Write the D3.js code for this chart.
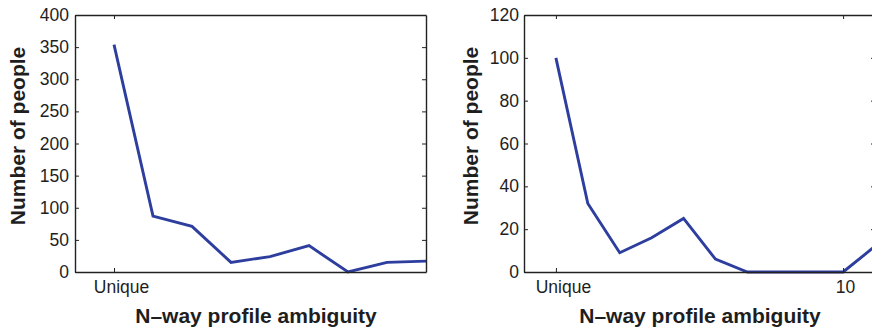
<!DOCTYPE html>
<html>
<head>
<meta charset="utf-8">
<script src="https://cdn.jsdelivr.net/npm/d3@7"></script>
<style>
  body { margin: 0; background: #fff; }
  svg { display: block; }
  .tick text { font-family: "Liberation Sans", Arial, Helvetica, sans-serif; font-size: 17.5px; fill: #1e1e1e; }
  .title { font-family: "Liberation Sans", Arial, Helvetica, sans-serif; font-size: 21px; font-weight: bold; fill: #1e1e1e; }
</style>
</head>
<body>
<div id="chart"></div>
<script>
// data (x = ambiguity level, 1 = unique)
var leftX = [1, 2, 3, 4, 5, 6, 7, 8, 9];
var leftCounts = [354, 87, 71, 15, 24, 41, 0, 15, 17];
var leftYTicks = [0, 50, 100, 150, 200, 250, 300, 350, 400];
var leftXTicks = [1];

var rightX = [1, 2, 3, 4, 5, 6, 7, 8, 9, 10, 11];
var rightCounts = [100, 32, 9, 16, 25, 6, 0, 0, 0, 0, 12];
var rightYTicks = [0, 20, 40, 60, 80, 100, 120];
var rightXTicks = [1, 10];

var xLabel = "N\u2013way profile ambiguity";
var yLabel = "Number of people";

var svg = d3.select("#chart").append("svg")
    .attr("width", 872)
    .attr("height", 331);

var panel = function(opts) {
    var x = d3.scaleLinear().domain(opts.xDomain).range([opts.left, opts.right]);
    var y = d3.scaleLinear().domain(opts.yDomain).range([272, 15]);
    var fmt = function(d) { return d == 1 ? "Unique" : d; };

    var g = svg.append("g");

    // line first so the box sits on top
    var line = d3.line()
        .x(function(d, i) { return x(opts.xs[i]); })
        .y(function(d) { return y(d); });
    g.append("path")
        .datum(opts.values)
        .attr("d", line)
        .attr("fill", "none")
        .attr("stroke", "#2d3e9e")
        .attr("stroke-width", 2.9)
        .attr("stroke-linejoin", "miter");

    // bottom axis (ticks point inward)
    var bx = g.append("g")
        .attr("transform", "translate(0,272)")
        .call(d3.axisBottom(x).tickValues(opts.xTicks).tickFormat(fmt).tickSizeInner(-4).tickSizeOuter(0).tickPadding(9));
    bx.selectAll(".tick text").attr("dx", function(d) { return d == 1 ? 7 : 2; });

    // top axis, no labels
    g.append("g")
        .attr("transform", "translate(0,15)")
        .call(d3.axisTop(x).tickValues(opts.xTicks).tickFormat("").tickSizeInner(-4).tickSizeOuter(0));

    // left axis
    g.append("g")
        .attr("transform", "translate(" + opts.left + ",0)")
        .call(d3.axisLeft(y).tickValues(opts.yTicks).tickSizeInner(-4).tickSizeOuter(0).tickPadding(opts.pad));

    // right axis, no labels
    g.append("g")
        .attr("transform", "translate(" + opts.right + ",0)")
        .call(d3.axisRight(y).tickValues(opts.yTicks).tickFormat("").tickSizeInner(-4).tickSizeOuter(0));

    g.selectAll(".domain").attr("stroke", "#222").attr("stroke-width", 1.4);
    g.selectAll(".tick line").attr("stroke", "#222").attr("stroke-width", 1);

    g.append("text")
        .attr("class", "title")
        .attr("x", opts.titleX)
        .attr("y", 323)
        .attr("text-anchor", "middle")
        .text(xLabel);

    g.append("text")
        .attr("class", "title")
        .attr("transform", "translate(" + opts.yTitleX + ",136) rotate(-90)")
        .attr("text-anchor", "middle")
        .text(yLabel);
};

panel({
    xs: leftX, values: leftCounts, xDomain: [0, 9], yDomain: [0, 400],
    xTicks: leftXTicks, yTicks: leftYTicks,
    left: 75, right: 426, pad: 6, titleX: 256, yTitleX: 25
});

panel({
    xs: rightX, values: rightCounts, xDomain: [0, 11], yDomain: [0, 120],
    xTicks: rightXTicks, yTicks: rightYTicks,
    left: 524, right: 875, pad: 5, titleX: 700, yTitleX: 478
});
</script>
</body>
</html>
